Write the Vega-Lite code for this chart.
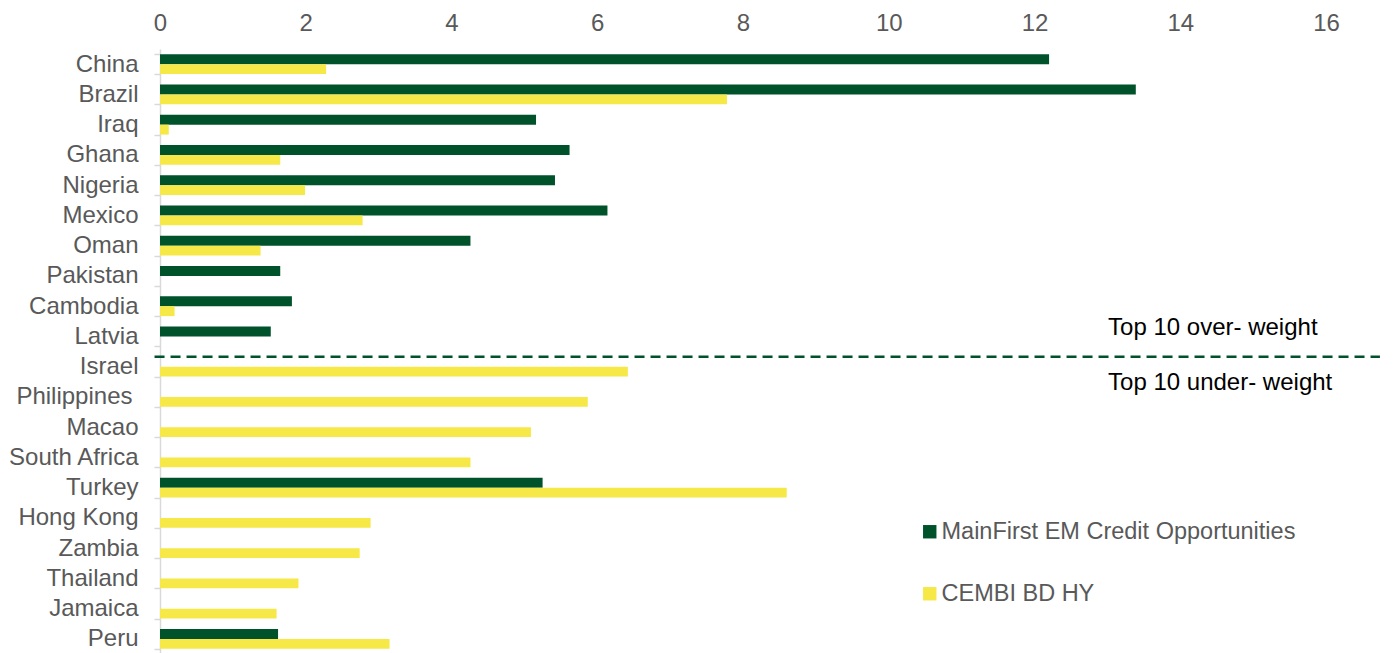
{
  "$schema": "https://vega.github.io/schema/vega-lite/v6.json",
  "width": 1166,
  "height": 605,
  "autosize": {"type": "none"},
  "padding": {"left": 160, "top": 49, "right": 69, "bottom": 0},
  "background": "white",
  "config": {"view": {"stroke": null}, "font": "Liberation Sans"},
  "datasets": {
    "bars": [
      {"country": "China", "series": "MainFirst EM Credit Opportunities", "value": 12.2},
      {"country": "China", "series": "CEMBI BD HY", "value": 2.28},
      {"country": "Brazil", "series": "MainFirst EM Credit Opportunities", "value": 13.39},
      {"country": "Brazil", "series": "CEMBI BD HY", "value": 7.78},
      {"country": "Iraq", "series": "MainFirst EM Credit Opportunities", "value": 5.16},
      {"country": "Iraq", "series": "CEMBI BD HY", "value": 0.12},
      {"country": "Ghana", "series": "MainFirst EM Credit Opportunities", "value": 5.62},
      {"country": "Ghana", "series": "CEMBI BD HY", "value": 1.65},
      {"country": "Nigeria", "series": "MainFirst EM Credit Opportunities", "value": 5.42},
      {"country": "Nigeria", "series": "CEMBI BD HY", "value": 1.99},
      {"country": "Mexico", "series": "MainFirst EM Credit Opportunities", "value": 6.14},
      {"country": "Mexico", "series": "CEMBI BD HY", "value": 2.78},
      {"country": "Oman", "series": "MainFirst EM Credit Opportunities", "value": 4.26},
      {"country": "Oman", "series": "CEMBI BD HY", "value": 1.38},
      {"country": "Pakistan", "series": "MainFirst EM Credit Opportunities", "value": 1.65},
      {"country": "Cambodia", "series": "MainFirst EM Credit Opportunities", "value": 1.81},
      {"country": "Cambodia", "series": "CEMBI BD HY", "value": 0.2},
      {"country": "Latvia", "series": "MainFirst EM Credit Opportunities", "value": 1.52},
      {"country": "Israel", "series": "CEMBI BD HY", "value": 6.42},
      {"country": "Philippines ", "series": "CEMBI BD HY", "value": 5.87},
      {"country": "Macao", "series": "CEMBI BD HY", "value": 5.09},
      {"country": "South Africa", "series": "CEMBI BD HY", "value": 4.26},
      {"country": "Turkey", "series": "MainFirst EM Credit Opportunities", "value": 5.25},
      {"country": "Turkey", "series": "CEMBI BD HY", "value": 8.6},
      {"country": "Hong Kong", "series": "CEMBI BD HY", "value": 2.89},
      {"country": "Zambia", "series": "CEMBI BD HY", "value": 2.74},
      {"country": "Thailand", "series": "CEMBI BD HY", "value": 1.9},
      {"country": "Jamaica", "series": "CEMBI BD HY", "value": 1.6},
      {"country": "Peru", "series": "MainFirst EM Credit Opportunities", "value": 1.62},
      {"country": "Peru", "series": "CEMBI BD HY", "value": 3.15}
    ],
    "divider": [
      {"country": "Israel", "start": -0.075, "end": 16.74}
    ],
    "over": [
      {"country": "Latvia", "x": 13.01, "label": "Top 10 over- weight"}
    ],
    "under": [
      {"country": "Israel", "x": 13.01, "label": "Top 10 under- weight"}
    ]
  },
  "encoding": {
    "y": {
      "field": "country",
      "type": "nominal",
      "sort": ["China", "Brazil", "Iraq", "Ghana", "Nigeria", "Mexico", "Oman", "Pakistan", "Cambodia", "Latvia", "Israel", "Philippines ", "Macao", "South Africa", "Turkey", "Hong Kong", "Zambia", "Thailand", "Jamaica", "Peru"],
      "scale": {"paddingInner": 0.34, "paddingOuter": 0.17},
      "axis": {
        "title": null,
        "domainColor": "#d9d9d9",
        "domainWidth": 1.5,
        "tickColor": "#d9d9d9",
        "tickWidth": 1.5,
        "tickSize": 6,
        "tickBand": "extent",
        "labelFontSize": 24,
        "labelColor": "#595959",
        "labelPadding": {"condition": {"test": "datum.value === 'Philippines '", "value": 22}, "value": 16},
        "grid": false
      }
    }
  },
  "layer": [
    {
      "data": {"name": "bars"},
      "mark": {"type": "bar"},
      "encoding": {
        "x": {
          "field": "value",
          "type": "quantitative",
          "scale": {"domain": [0, 16], "nice": false},
          "axis": {
            "orient": "top",
            "title": null,
            "values": [0, 2, 4, 6, 8, 10, 12, 14, 16],
            "format": "d",
            "domain": false,
            "ticks": false,
            "grid": false,
            "labelFlush": false,
            "labelFontSize": 24,
            "labelColor": "#595959",
            "labelPadding": 19,
            "labelBaseline": "alphabetic"
          }
        },
        "yOffset": {
          "field": "series",
          "type": "nominal",
          "sort": ["MainFirst EM Credit Opportunities", "CEMBI BD HY"]
        },
        "color": {
          "field": "series",
          "type": "nominal",
          "scale": {
            "domain": ["MainFirst EM Credit Opportunities", "CEMBI BD HY"],
            "range": ["#00522b", "#f6e947"]
          },
          "legend": {
            "orient": "none",
            "legendX": 758,
            "legendY": 471,
            "title": null,
            "padding": 0,
            "symbolType": "square",
            "symbolSize": 180,
            "symbolStrokeWidth": 0,
            "labelFontSize": 23.5,
            "labelColor": "#595959",
            "labelOffset": 0,
            "rowPadding": 37,
            "labelLimit": 500
          }
        }
      }
    },
    {
      "data": {"name": "divider"},
      "mark": {"type": "rule", "color": "#00522b", "strokeWidth": 2.5, "strokeDash": [10, 6]},
      "encoding": {
        "y": {"field": "country", "type": "nominal", "bandPosition": 0},
        "x": {"field": "start", "type": "quantitative"},
        "x2": {"field": "end"}
      }
    },
    {
      "data": {"name": "over"},
      "mark": {"type": "text", "align": "left", "baseline": "middle", "fontSize": 24, "color": "#000000", "dy": -8},
      "encoding": {
        "x": {"field": "x", "type": "quantitative"},
        "text": {"field": "label"}
      }
    },
    {
      "data": {"name": "under"},
      "mark": {"type": "text", "align": "left", "baseline": "middle", "fontSize": 24, "color": "#000000", "dy": 16},
      "encoding": {
        "x": {"field": "x", "type": "quantitative"},
        "text": {"field": "label"}
      }
    }
  ]
}
